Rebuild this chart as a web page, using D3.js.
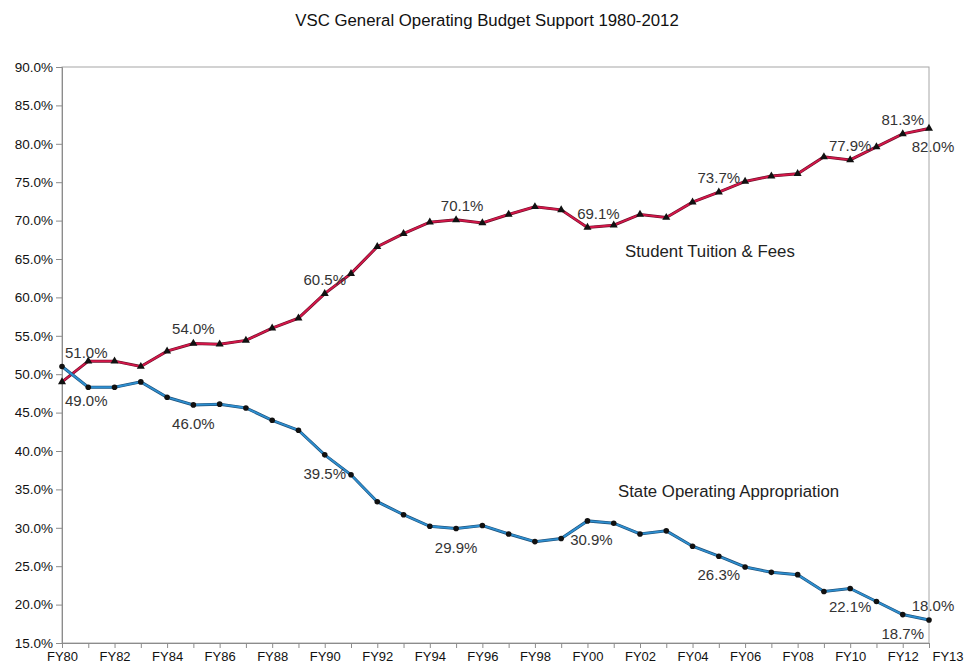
<!DOCTYPE html>
<html>
<head>
<meta charset="utf-8">
<script src="https://cdn.jsdelivr.net/npm/d3@7"></script>
<style>
  body { margin: 0; background: #fff; }
  text { font-family: "Liberation Sans", Arial, sans-serif; }
</style>
</head>
<body>
<div id="chart"></div>
<script>

// DATA
let years = ["FY80","FY81","FY82","FY83","FY84","FY85","FY86","FY87","FY88","FY89",
             "FY90","FY91","FY92","FY93","FY94","FY95","FY96","FY97","FY98","FY99",
             "FY00","FY01","FY02","FY03","FY04","FY05","FY06","FY07","FY08","FY09",
             "FY10","FY11","FY12","FY13"];

let tuition = [49.0, 51.7, 51.7, 51.0, 53.0, 54.0, 53.9, 54.4, 56.0, 57.3,
               60.5, 63.1, 66.6, 68.3, 69.8, 70.1, 69.7, 70.8, 71.8, 71.4,
               69.1, 69.4, 70.8, 70.4, 72.4, 73.7, 75.1, 75.8, 76.1, 78.3,
               77.9, 79.6, 81.3, 82.0];

let appropriation = [51.0, 48.3, 48.3, 49.0, 47.0, 46.0, 46.1, 45.6, 44.0, 42.7,
                     39.5, 36.9, 33.4, 31.7, 30.2, 29.9, 30.3, 29.2, 28.2, 28.6,
                     30.9, 30.6, 29.2, 29.6, 27.6, 26.3, 24.9, 24.2, 23.9, 21.7,
                     22.1, 20.4, 18.7, 18.0];

// years that carry a value label
let labelledYears = ["FY80","FY85","FY90","FY95","FY00","FY05","FY10","FY12","FY13"];

let yTicks = [15, 20, 25, 30, 35, 40, 45, 50, 55, 60, 65, 70, 75, 80, 85, 90];


// CHART AREA
let margin = {top: 67, right: 41, bottom: 21, left: 62},
    width = 970 - margin.left - margin.right,
    height = 664 - margin.top - margin.bottom;

let svg = d3.select("#chart").append("svg")
    .attr("width", 970)
    .attr("height", 664);

let g = svg.append("g")
    .attr("transform", "translate(" + margin.left + "," + margin.top + ")");

svg.append("text")
    .attr("x", 487)
    .attr("y", 26)
    .attr("text-anchor", "middle")
    .attr("font-size", "16.8px")
    .attr("fill", "#111")
    .text("VSC General Operating Budget Support 1980-2012");


// SCALES
let x = d3.scalePoint()
    .domain(years)
    .range([0, width]);

let y = d3.scaleLinear()
    .domain([15, 90])
    .range([height, 0]);

// frame
g.append("rect")
    .attr("width", width)
    .attr("height", height)
    .attr("fill", "#fff")
    .attr("stroke", "#a6a6a6")
    .attr("stroke-width", 1);


// AXIS
let xAxis = d3.axisBottom(x)
    .tickSize(5)
    .tickFormat((d, i) => (i % 2 === 0 || d === "FY13") ? d : "");

let yAxis = d3.axisLeft(y)
    .tickValues(yTicks)
    .tickSize(6)
    .tickFormat(d => d.toFixed(1) + "%");

let xAxisGroup = g.append("g")
    .attr("transform", "translate(0," + height + ")")
    .call(xAxis);

let yAxisGroup = g.append("g")
    .call(yAxis);

[xAxisGroup, yAxisGroup].forEach(ax => {
    ax.select(".domain").attr("stroke", "#8c8c8c");
    ax.selectAll(".tick line").attr("stroke", "#8c8c8c");
    ax.selectAll(".tick text")
        .attr("fill", "#111")
        .attr("font-size", "13.5px")
        .attr("font-family", "Liberation Sans, Arial, sans-serif");
});

xAxisGroup.selectAll(".tick text")
    .attr("font-size", "13px")
    .attr("y", 17.5)
    .attr("dy", 0);
yAxisGroup.selectAll(".tick text").attr("x", -9);

// FY13 label sits right of its tick
xAxisGroup.selectAll(".tick")
    .filter(d => d === "FY13")
    .select("text")
    .attr("text-anchor", "start")
    .attr("x", 3);


// ---- LINES ----
let line = d3.line()
    .x((d, i) => x(years[i]))
    .y(d => y(d));

g.append("path")
    .datum(tuition)
    .attr("fill", "none")
    .attr("stroke", "#6a1028")
    .attr("stroke-width", 3)
    .attr("d", line);

g.append("path")
    .datum(tuition)
    .attr("fill", "none")
    .attr("stroke", "#d4174a")
    .attr("stroke-width", 1.8)
    .attr("d", line);

g.append("path")
    .datum(appropriation)
    .attr("fill", "none")
    .attr("stroke", "#1d4f78")
    .attr("stroke-width", 3)
    .attr("d", line);

g.append("path")
    .datum(appropriation)
    .attr("fill", "none")
    .attr("stroke", "#2e8fd0")
    .attr("stroke-width", 1.8)
    .attr("d", line);

// ---- MARKERS ----
g.selectAll(".tri")
    .data(tuition)
    .enter()
    .append("path")
    .attr("class", "tri")
    .attr("d", d3.symbol().type(d3.symbolTriangle).size(28))
    .attr("transform", (d, i) => "translate(" + x(years[i]) + "," + y(d) + ")")
    .attr("fill", "#111");

g.selectAll(".dot")
    .data(appropriation)
    .enter()
    .append("circle")
    .attr("class", "dot")
    .attr("cx", (d, i) => x(years[i]))
    .attr("cy", d => y(d))
    .attr("r", 2.8)
    .attr("fill", "#111");


// ---- VALUE LABELS ----
// upper series labelled above, lower series below; last year is flipped
function addLabels(values) {
    labelledYears.forEach(yr => {
        let i = years.indexOf(yr),
            v = values[i],
            upper = v > 50,
            above = yr === "FY13" ? !upper : upper,
            px = x(yr),
            py = y(v),
            dx = 0,
            anchor = "middle";

        if (yr === "FY80") { anchor = "start"; dx = 3; }
        if (yr === "FY95" && upper) dx = 6;
        if (yr === "FY00") dx = upper ? 11 : 4;
        if (yr === "FY13") dx = 4;

        g.append("text")
            .attr("x", px + dx)
            .attr("y", above ? py - 9 : py + 24)
            .attr("text-anchor", anchor)
            .attr("font-size", "15px")
            .attr("fill", "#333")
            .text(v.toFixed(1) + "%");
    });
}

addLabels(tuition);
addLabels(appropriation);


// ---- SERIES NAMES ----
g.append("text")
    .attr("x", 625 - margin.left)
    .attr("y", 257 - margin.top)
    .attr("font-size", "16.8px")
    .attr("fill", "#222")
    .text("Student Tuition & Fees");

g.append("text")
    .attr("x", 618 - margin.left)
    .attr("y", 497 - margin.top)
    .attr("font-size", "16.8px")
    .attr("fill", "#222")
    .text("State Operating Appropriation");

</script>
</body>
</html>
